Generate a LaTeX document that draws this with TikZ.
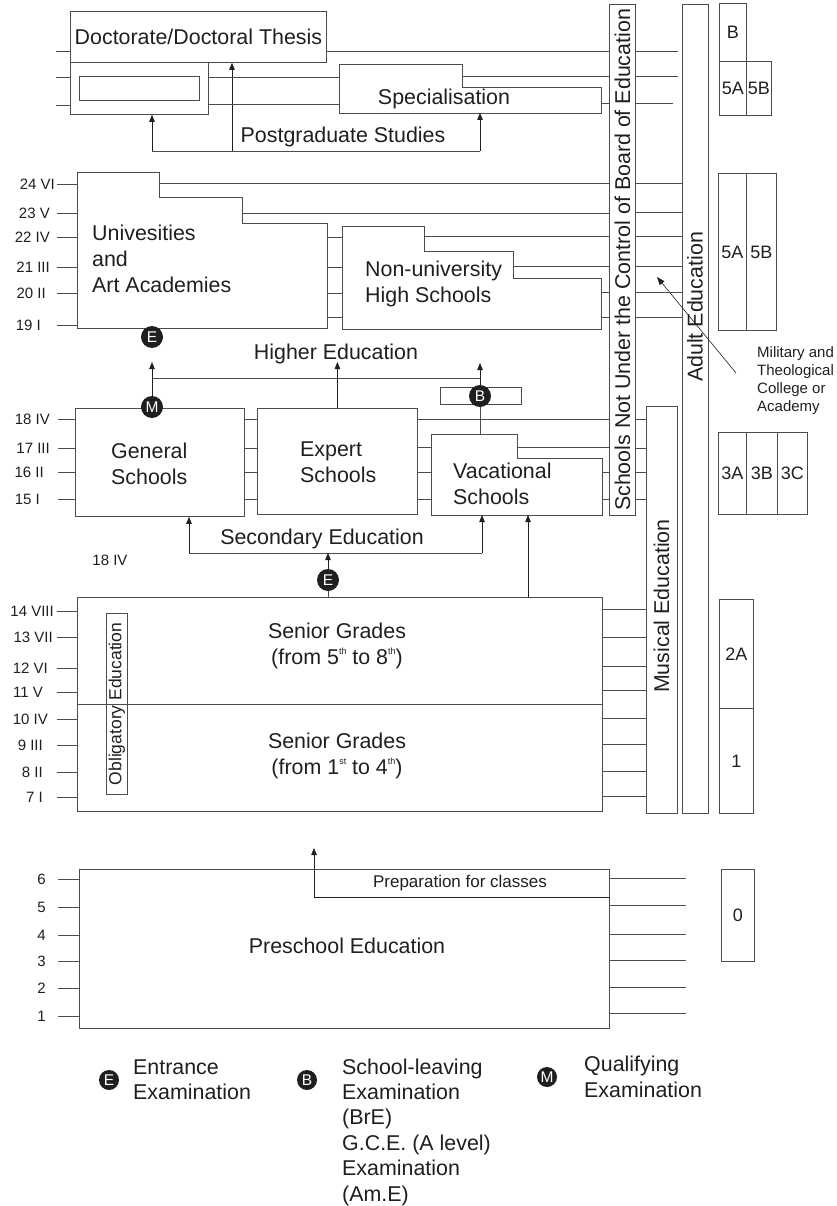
\documentclass[tikz,border=0pt]{standalone}
\usepackage{fontspec}
\setmainfont{Liberation Sans}
\usetikzlibrary{arrows.meta,positioning}
\definecolor{ink}{gray}{0.12}
\definecolor{rule}{gray}{0.3}
\newcommand{\ordsup}[1]{\raisebox{0.45em}{\fontsize{9}{9}\selectfont #1}}

\begin{document}
\begin{tikzpicture}[
    x=1pt, y=-1pt,
    box/.style={draw=rule, line width=0.8pt, inner sep=0pt, anchor=north west},
    outline/.style={draw=rule, line width=0.8pt},
    yearline/.style={draw=rule, line width=0.8pt},
    uparrow/.style={draw=ink, line width=0.8pt, -{Triangle[length=7pt, width=5.5pt]}},
    lbl/.style={font=\fontsize{21.4}{26}\selectfont, text=ink, inner sep=0pt},
    tick/.style={font=\fontsize{15}{17}\selectfont, text=ink, inner sep=0pt, anchor=east},
    note/.style={font=\fontsize{15}{18.3}\selectfont, text=ink, inner sep=0pt, align=left},
    isced/.style={box, font=\fontsize{18}{20}\selectfont, text=ink},
    exam/.style={circle, fill=ink, text=white, inner sep=0pt, minimum size=22pt, font=\fontsize{15.5}{15.5}\selectfont}
]
    \useasboundingbox (0,0) rectangle (836,1206);

    % Postgraduate
    \node[box, lbl, minimum width=256pt, minimum height=51pt] (doc) at (70,11) {Doctorate/Doctoral Thesis};
    \node[box, minimum width=138pt, minimum height=52pt] (pg) at (70,62) {};
    \node[box, minimum width=120pt, minimum height=24pt] (pgin) at (79,76) {};
    \draw[outline] (339,64) -- (462,64) -- (462,87) -- (601,87) -- (601,113) -- (339,113) -- cycle;
    \coordinate (sp-nw) at (339,64);
    \coordinate (sp-se) at (601,113);
    \coordinate (sp-step) at (462,76);
    \node[lbl] (spec) at (444,99) {Specialisation};
    \node[lbl] (pgstud) at (343,137) {Postgraduate Studies};
    \coordinate (pg-bar-l) at (152,151);
    \coordinate (pg-bar-r) at (480,151);
    \draw[yearline] (pg-bar-l) -- (pg-bar-r);
    \draw[uparrow] (pg-bar-l) -- (pg.south -| pg-bar-l);
    \draw[uparrow] (pg-bar-l -| 232,0) -- (doc.south -| 232,0);
    \draw[uparrow] (pg-bar-r) -- (sp-se -| pg-bar-r);
    \foreach \y in {51,77,105}
        \draw[yearline] (56,\y) -- (pg.west |- 0,\y);

    % Side columns
    \node[box, minimum width=26pt, minimum height=511pt] (nb) at (609,4) {};
    \node[lbl, rotate=90] (nbtxt) at (nb.center) {Schools Not Under the Control of Board of Education};
    \node[box, minimum width=26pt, minimum height=809pt] (adult) at (682,4) {};
    \node[lbl, rotate=90] (adtxt) at (695,307) {Adult Education};
    \node[box, minimum width=31pt, minimum height=407pt] (mus) at (646,406) {};
    \node[lbl, rotate=90] (mustxt) at (661.5,606) {Musical Education};

    % ISCED levels
    \foreach \nm/\x/\y/\w/\h/\lv in {lvB/719/3/27/58/B, lv5a/719/61/27/54/5A, lv5b/746/61/25/54/5B,
        hi5a/718/173/28/157/5A, hi5b/746/173/30/157/5B,
        lv3a/718/432/28/82/3A, lv3b/746/432/31/82/3B, lv3c/777/432/30/82/3C,
        lv2a/719/599/34/109/2A, lv1/719/708/34/105/1, lv0/721/869/33/92/0}
        \node[isced, minimum width=\w pt, minimum height=\h pt] (\nm) at (\x,\y) {\lv};

    \node[note, anchor=north west] (mil) at (757,346) {Military and\\Theological\\College or\\Academy};
    \coordinate (mil-tail) at (736,373);
    \coordinate (mil-head) at (657,277);
    \draw[draw=ink, line width=0.6pt, -{Triangle[length=8pt, width=6pt]}] (mil-tail) -- (mil-head);

    % Higher education
    \draw[outline] (77,172) -- (159,172) -- (159,197) -- (242,197) -- (242,223) -- (327,223) -- (327,328) -- (77,328) -- cycle;
    \coordinate (uni-w) at (77,172);
    \coordinate (uni-se) at (327,328);
    \coordinate (uni-s1) at (159,183);
    \coordinate (uni-s2) at (242,213);
    \node[lbl, align=left, anchor=west] (unitxt) at (92,259) {Univesities\\and\\Art Academies};
    \draw[outline] (342,226) -- (424,226) -- (424,251) -- (513,251) -- (513,278) -- (601,278) -- (601,329) -- (342,329) -- cycle;
    \coordinate (nu-sw) at (342,329);
    \coordinate (nu-se) at (601,329);
    \coordinate (nu-s1) at (424,236);
    \coordinate (nu-s2) at (513,266);
    \node[lbl, align=left, anchor=west] (nutxt) at (365,284) {Non-university\\High Schools};

    \foreach \y/\yr/\xr in {184/24 VI/55, 213/23 V/50, 237/22 IV/50, 267/21 III/50, 293/20 II/46, 325/19 I/41} {
        \draw[yearline] (57,\y) -- (uni-w |- 0,\y);
        \node[tick] (yr-\y) at (\xr,\y) {\yr};
    }
    \draw[yearline] (uni-s1) -- (nb.west |- uni-s1);
    \draw[yearline] (uni-s2) -- (nb.west |- uni-s2);
    \draw[yearline] (nu-s1) -- (nb.west |- nu-s1);
    \draw[yearline] (nu-s2) -- (nb.west |- nu-s2);
    \foreach \y in {237,267,293,317}
        \draw[yearline] (uni-se |- 0,\y) -- (nu-sw |- 0,\y);
    \foreach \y in {292,317}
        \draw[yearline] (nu-se |- 0,\y) -- (nb.west |- 0,\y);

    % Top right rows
    \draw[yearline] (doc.east |- 0,51) -- (nb.west |- 0,51);
    \foreach \y in {77,104}
        \draw[yearline] (pg.east |- 0,\y) -- (sp-nw |- 0,\y);
    \draw[yearline] (sp-step) -- (nb.west |- sp-step);
    \draw[yearline] (sp-se |- 0,103) -- (nb.west |- 0,103);
    \foreach \y/\gap in {51/4, 76/4, 103/9}
        \draw[yearline, shorten >=\gap pt] (nb.east |- 0,\y) -- (adult.west |- 0,\y);
    \foreach \y in {183,212,236,266,292,317}
        \draw[yearline] (nb.east |- 0,\y) -- (adult.west |- 0,\y);

    \node[exam] (e-hi) at (152,337) {E};
    \node[lbl] (hiedu) at (336,354) {Higher Education};

    % Secondary education
    \node[box, minimum width=169pt, minimum height=108pt] (gen) at (75,408) {};
    \node[lbl, align=left, anchor=west] (gentxt) at (111,464) {General\\Schools};
    \node[box, minimum width=160pt, minimum height=106pt] (exp) at (257,408) {};
    \node[lbl, align=left, anchor=west] (exptxt) at (300,462) {Expert\\Schools};
    \draw[outline] (431,434) -- (517,434) -- (517,458) -- (602,458) -- (602,515) -- (431,515) -- cycle;
    \coordinate (voc-sw) at (431,515);
    \coordinate (voc-se) at (602,515);
    \coordinate (voc-top) at (480,434);
    \coordinate (voc-step) at (517,447);
    \node[lbl, align=left, anchor=west] (voctxt) at (453,484) {Vacational\\Schools};

    \node[exam] (m-gen) at (152,407) {M};
    \node[box, fill=white, minimum width=81pt, minimum height=17pt] (brect) at (440,387) {};
    \node[exam] (b-voc) at (480,396) {B};
    \coordinate (hi-bar-l) at (152,378);
    \coordinate (hi-bar-r) at (480,378);
    \draw[yearline] (hi-bar-l) -- (hi-bar-r);
    \draw[uparrow] (m-gen) -- (e-hi.south |- 0,362);
    \draw[uparrow] (exp.north) -- (exp.north |- 0,362);
    \draw[yearline] (voc-top) -- (b-voc);
    \draw[uparrow] (b-voc) -- (b-voc |- 0,363);

    \foreach \y/\yr/\xr in {419/18 IV/50, 448/17 III/50, 472/16 II/44, 499/15 I/40} {
        \draw[yearline] (58,\y) -- (gen.west |- 0,\y);
        \node[tick] (yr-\y) at (\xr,\y) {\yr};
        \draw[yearline] (gen.east |- 0,\y) -- (exp.west |- 0,\y);
        \draw[yearline] (nb.east |- 0,\y) -- (mus.west |- 0,\y);
    }
    \draw[yearline] (exp.east |- 0,419) -- (nb.west |- 0,419);
    \foreach \y in {447,472,499}
        \draw[yearline] (exp.east |- 0,\y) -- (voc-sw |- 0,\y);
    \draw[yearline] (voc-step) -- (nb.west |- voc-step);
    \foreach \y in {472,499}
        \draw[yearline] (voc-se |- 0,\y) -- (nb.west |- 0,\y);

    \coordinate (sec-bar-l) at (189,553);
    \coordinate (sec-bar-r) at (482,553);
    \draw[yearline] (sec-bar-l) -- (sec-bar-r);
    \draw[uparrow] (sec-bar-l) -- (gen.south -| sec-bar-l);
    \draw[uparrow] (sec-bar-r) -- (voc-sw -| sec-bar-r);
    \node[lbl] (secedu) at (322,539) {Secondary Education};
    \node[tick, anchor=center] (stray) at (110,560) {18 IV};

    % Obligatory education
    \node[box, minimum width=525pt, minimum height=107pt] (sen2) at (77,597) {};
    \node[box, minimum width=525pt, minimum height=107pt] (sen1) at (77,704) {};
    \node[lbl, align=center] (sen2txt) at (337,646) {Senior Grades\\(from 5\ordsup{th} to 8\ordsup{th})};
    \node[lbl, align=center] (sen1txt) at (337,756) {Senior Grades\\(from 1\ordsup{st} to 4\ordsup{th})};
    \node[box, minimum width=21pt, minimum height=181pt] (oblig) at (106,613) {};
    \node[font=\fontsize{17.5}{20}\selectfont, text=ink, inner sep=0pt, rotate=90] (obltxt) at (oblig.center) {Obligatory Education};

    \node[exam] (e-sec) at (328,580) {E};
    \draw[uparrow] (e-sec) -- (e-sec |- sec-bar-l);
    \draw[yearline] (e-sec) -- (e-sec |- sen2.north);
    \draw[uparrow] (sen2.north -| 528,0) -- (voc-se -| 528,0);

    \foreach \y/\yr/\xr in {611/14 VIII/54, 637/13 VII/53, 668/12 VI/48, 692/11 V/43,
        719/10 IV/48, 745/9 III/43, 772/8 II/43, 797/7 I/43} {
        \draw[yearline] (57,\y) -- (sen2.west |- 0,\y);
        \node[tick] (yr-\y) at (\xr,\y) {\yr};
    }
    \foreach \y in {609,637,666,690}
        \draw[yearline] (sen2.east |- 0,\y) -- (mus.west |- 0,\y);
    \foreach \y in {718,744,771,796}
        \draw[yearline] (sen1.east |- 0,\y) -- (mus.west |- 0,\y);

    % Preschool
    \node[box, minimum width=530pt, minimum height=159pt] (pre) at (79,869) {};
    \node[lbl] (pretxt) at (347,946) {Preschool Education};
    \coordinate (prep-corner) at (314,897);
    \coordinate (prep-tip) at (314,848);
    \draw[uparrow] (pre.east |- prep-corner) -- (prep-corner) -- (prep-tip);
    \node[font=\fontsize{17}{19}\selectfont, text=ink, inner sep=0pt] (preptxt) at (460,883) {Preparation for classes};
    \foreach \y/\yr in {879/6, 907/5, 935/4, 961/3, 988/2, 1016/1} {
        \draw[yearline] (58,\y) -- (pre.west |- 0,\y);
        \node[tick] (yr-\y) at (46,\y) {\yr};
    }
    \foreach \y in {878,905,934,960,987,1013}
        \draw[yearline] (pre.east |- 0,\y) -- ++(76,0);

    % Key
    \node[exam, minimum size=20pt] (key-e) at (109,1080) {E};
    \node[lbl, align=left, anchor=west, font=\fontsize{21.4}{25.4}\selectfont] (key-etxt) at (133,1080) {Entrance\\Examination};
    \node[exam, minimum size=20pt] (key-b) at (307,1080) {B};
    \node[lbl, align=left, anchor=west, font=\fontsize{21.4}{25.4}\selectfont] (key-btxt) at (342,1132) {School-leaving\\Examination\\(BrE)\\G.C.E. (A level)\\Examination\\(Am.E)};
    \node[exam, minimum size=20pt] (key-m) at (547,1077) {M};
    \node[lbl, align=left, anchor=west, font=\fontsize{21.4}{25.4}\selectfont] (key-mtxt) at (584,1077) {Qualifying\\Examination};
\end{tikzpicture}
\end{document}
